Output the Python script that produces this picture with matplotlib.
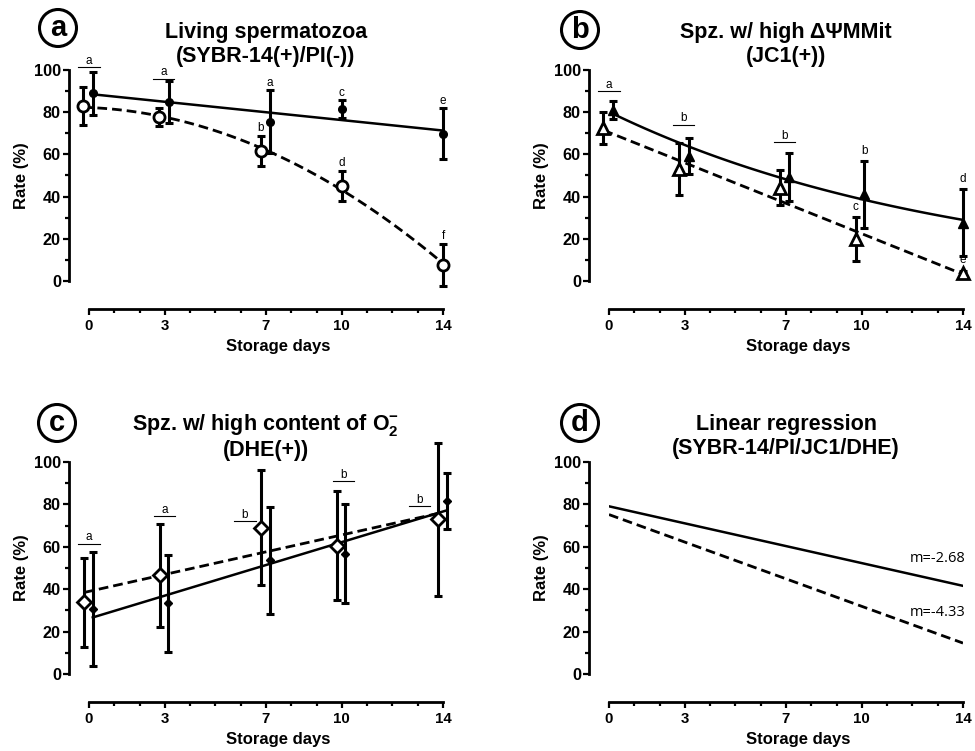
import numpy as np
import matplotlib
matplotlib.use("Agg")
import matplotlib.pyplot as plt
from matplotlib.patches import Ellipse

plt.rcParams['font.family'] = ['Liberation Sans', 'DejaVu Sans']
plt.rcParams['mathtext.fontset'] = 'custom'
plt.rcParams['mathtext.rm'] = 'Liberation Sans:bold'
plt.rcParams['mathtext.bf'] = 'Liberation Sans:bold'
plt.rcParams['mathtext.default'] = 'rm'

# ---- data ----
days = [0, 3, 7, 10, 14]

# a: living spermatozoa
a_open_mean = [82.9, 77.6, 61.8, 45.2, 7.6]
a_open_err = [8.9, 4.3, 7.1, 7.1, 9.9]
a_fill_mean = [88.9, 85.0, 75.5, 81.5, 69.7]
a_fill_err = [10.2, 10.0, 14.9, 4.2, 12.1]

# b: high mitochondrial potential
b_open_mean = [72.7, 52.9, 44.2, 19.9, 3.6]
b_open_err = [7.6, 12.3, 8.3, 10.4, 1.0]
b_fill_mean = [81.0, 59.2, 49.4, 41.1, 27.6]
b_fill_err = [4.2, 8.5, 11.5, 16.0, 15.8]

# c: superoxide
c_open_mean = [33.8, 46.5, 68.9, 60.6, 73.0]
c_open_err = [21.1, 24.4, 27.1, 25.9, 36.0]
c_fill_mean = [30.8, 33.3, 53.7, 56.7, 81.5]
c_fill_err = [26.9, 23.0, 25.3, 23.4, 13.2]

# d: linear regression (intercept, slope)
d_solid = (79.1, -2.68)
d_dashed = (75.2, -4.33)
d_labels = ["m=-2.68", "m=-4.33"]

# small horizontal dodge of the two groups
a_open_dx = [-0.25, -0.25, -0.2, 0, 0]
a_fill_dx = [0.15, 0.15, 0.15, 0, 0]
b_open_dx = [-0.22, -0.23, -0.24, -0.24, 0]
b_fill_dx = [0.17, 0.16, 0.1, 0.1, 0]
c_open_dx = [-0.18, -0.2, -0.2, -0.2, -0.2]
c_fill_dx = [0.15, 0.14, 0.14, 0.13, 0.16]

# significance letters: x, y, letter, with bar
a_sig = [(0, 101.4, 'a', True), (2.95, 95.9, 'a', True), (7.15, 92.4, 'a', False),
         (6.8, 71.0, 'b', False), (10, 87.8, 'c', False), (10, 54.3, 'd', False),
         (14, 83.8, 'e', False), (14, 19.7, 'f', False)]
b_sig = [(0, 90.0, 'a', True), (2.95, 74.1, 'b', True), (6.95, 65.9, 'b', True),
         (9.76, 33.5, 'c', False), (10.1, 60.3, 'b', False), (14, 47.0, 'd', False),
         (14, 8.3, 'e', False)]
c_sig = [(0, 61.5, 'a', True), (3.0, 74.4, 'a', True), (6.17, 72.2, 'b', True),
         (10.07, 90.9, 'b', True), (13.08, 79.1, 'b', True)]

W, H = 975, 751
fig = plt.figure(figsize=(9.75, 7.51), dpi=100)


def add_ax(left, top, right, bottom):
    return fig.add_axes([left / W, 1 - bottom / H, (right - left) / W, (bottom - top) / H])


def style(ax, title):
    ax.set_xlim(0, 14)
    ax.set_ylim(0, 100)
    ax.patch.set_visible(False)
    for s in ['top', 'right']:
        ax.spines[s].set_visible(False)
    ax.spines['left'].set_position(('outward', 14.4))
    ax.spines['bottom'].set_position(('outward', 20))
    ax.spines['left'].set_bounds(0, 100)
    ax.spines['bottom'].set_bounds(0, 14)
    for s in ['left', 'bottom']:
        ax.spines[s].set_linewidth(2)
    ax.set_xticks(days)
    ax.set_xticks(range(15), minor=True)
    ax.set_yticks(range(0, 101, 20))
    ax.set_yticks(range(10, 100, 20), minor=True)
    ax.tick_params(which='major', length=4.3, width=1.6, pad=1.5)
    ax.tick_params(which='minor', length=3, width=1.6)
    ax.tick_params(axis='y', labelsize=11.7)
    ax.tick_params(axis='x', labelsize=10.8, pad=3)
    for lab in ax.get_xticklabels() + ax.get_yticklabels():
        lab.set_fontweight('bold')
    ax.set_ylabel('Rate (%)', fontsize=12, fontweight='bold')
    ax.yaxis.set_label_coords(-0.17, 0.5)
    ax.set_xlabel('Storage days', fontsize=12, fontweight='bold')
    ax.xaxis.set_label_coords(0.535, -0.275)
    ax.text(0.5, 1.12, title, transform=ax.transAxes, ha='center', va='center',
            fontsize=15.5, fontweight='bold', linespacing=1.15)


def series(ax, x, m, e, marker, ms, filled):
    cont = ax.errorbar(x, m, yerr=e, fmt='none', ecolor='black', elinewidth=2.2,
                       capsize=3, capthick=2.2, zorder=3)
    for ch in cont.get_children():
        ch.set_clip_on(False)
    ax.plot(x, m, ls='none', marker=marker, ms=ms,
            mfc='black' if filled else 'white', mec='black',
            mew=1 if filled else 2, clip_on=False, zorder=4)


def fit_line(ax, x, m, deg, dashed, log=False):
    xs = np.linspace(min(x), max(x), 100)
    if log:
        p = np.polyfit(x, np.log(m), 1)
        ys = np.exp(np.polyval(p, xs))
    else:
        p = np.polyfit(x, m, deg)
        ys = np.polyval(p, xs)
    if dashed:
        ax.plot(xs, ys, color='black', lw=2.0, ls=(0, (3.5, 1.8)), zorder=2, clip_on=False)
    else:
        ax.plot(xs, ys, color='black', lw=1.8, zorder=2, clip_on=False)


def sig(ax, items):
    for x, y, t, bar in items:
        if bar:
            ax.plot([x - 0.42, x + 0.42], [y, y], color='black', lw=0.8, clip_on=False)
            ax.text(x, y + 1.5, t, ha='center', va='baseline', fontsize=8.5, clip_on=False)
        else:
            ax.text(x, y, t, ha='center', va='baseline', fontsize=8.5, clip_on=False)


def badge(cx, cy, letter):
    fig.add_artist(Ellipse((cx / W, 1 - cy / H), 37 / W, 37 / H, transform=fig.transFigure,
                           fill=False, ec='black', lw=2.2))
    fig.text(cx / W, 1 - cy / H, letter, ha='center', va='center', fontsize=21,
             fontweight='bold')


def dodge(dx):
    return [d + o for d, o in zip(days, dx)]


# ---- panel a ----
ax = add_ax(89, 70, 443, 281)
style(ax, "Living spermatozoa\n(SYBR-14(+)/PI(-))")
xo, xf = dodge(a_open_dx), dodge(a_fill_dx)
fit_line(ax, xf, a_fill_mean, 1, False)
fit_line(ax, xo, a_open_mean, 2, True)
series(ax, xo, a_open_mean, a_open_err, 'o', 8, False)
series(ax, xf, a_fill_mean, a_fill_err, 'o', 5.5, True)
sig(ax, a_sig)

# ---- panel b ----
ax = add_ax(609, 70, 963, 281)
style(ax, "Spz. w/ high ΔΨMMit\n(JC1(+))")
xo, xf = dodge(b_open_dx), dodge(b_fill_dx)
fit_line(ax, xf, b_fill_mean, 1, False, log=True)
fit_line(ax, xo, b_open_mean, 1, True)
series(ax, xo, b_open_mean, b_open_err, '^', 8, False)
series(ax, xf, b_fill_mean, b_fill_err, '^', 6.5, True)
sig(ax, b_sig)

# ---- panel c ----
ax = add_ax(89, 462, 443, 674)
style(ax, "Spz. w/ high content of $\\mathrm{O}_{2}^{-}$\n(DHE(+))")
xo, xf = dodge(c_open_dx), dodge(c_fill_dx)
fit_line(ax, xf, c_fill_mean, 1, False)
fit_line(ax, xo, c_open_mean, 1, True)
series(ax, xo, c_open_mean, c_open_err, 'D', 7, False)
series(ax, xf, c_fill_mean, c_fill_err, 'D', 4.5, True)
sig(ax, c_sig)

# ---- panel d ----
ax = add_ax(609, 462, 963, 674)
style(ax, "Linear regression\n(SYBR-14/PI/JC1/DHE)")
xs = np.array([0, 14])
ax.plot(xs, d_solid[0] + d_solid[1] * xs, color='black', lw=1.8)
ax.plot(xs, d_dashed[0] + d_dashed[1] * xs, color='black', lw=2.0, ls=(0, (3.5, 1.8)))
ax.text(14.1, 54.7, d_labels[0], ha='right', va='center', fontsize=10.5,
        family='Open Sans', clip_on=False)
ax.text(14.1, 28.8, d_labels[1], ha='right', va='center', fontsize=10.5,
        family='Open Sans', clip_on=False)

badge(58, 28, 'a')
badge(580, 30, 'b')
badge(57, 423, 'c')
badge(580, 423, 'd')

fig.savefig("out.png", dpi=100)
